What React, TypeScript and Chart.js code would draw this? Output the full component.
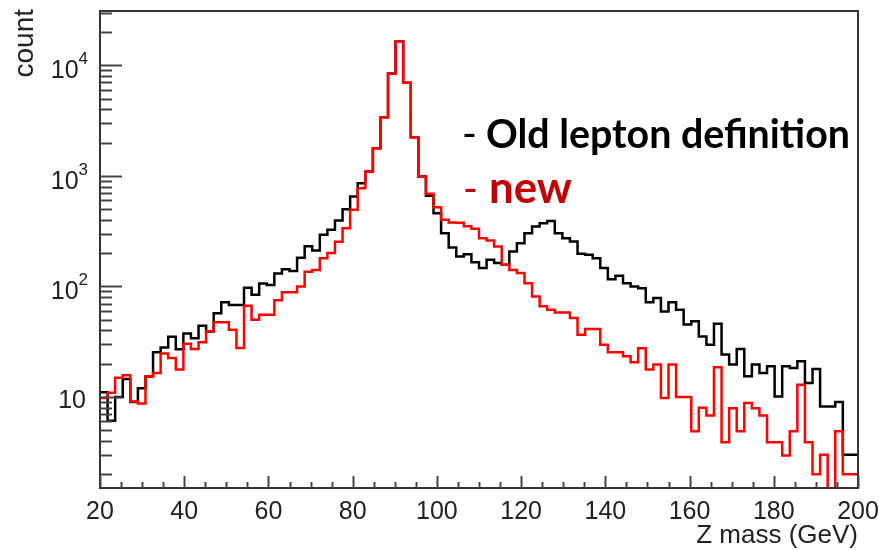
import React, { useEffect, useRef } from "react";
import { Chart, registerables } from "chart.js";

Chart.register(...registerables);

// Histogram binning (100 bins from 20 to 200 GeV)
const X_MIN = 20;
const X_MAX = 200;
const N_BINS = 100;

// Bin contents, "Old lepton definition" (black)
const oldLepton = [
  11, 6.1, 10, 14.5, 9, 12, 15.3, 25.4, 28, 35,
  27, 37.5, 34, 44, 39, 57, 72, 68, 68, 97,
  84, 106, 103, 131, 143, 138, 182, 231, 211, 293,
  325, 395, 500, 651, 858, 1094, 1778, 3388, 8450, 16500,
  6970, 2234, 986, 660, 460, 303, 225, 186, 195, 165,
  147, 174, 163, 157, 207, 246, 303, 348, 373, 390,
  303, 273, 255, 197, 193, 180, 147, 116, 125, 107,
  100, 96, 72, 78.5, 59.4, 71.7, 61.5, 45.1, 48.3, 35.3,
  29.7, 46, 24.2, 19.6, 27.2, 15.4, 19.6, 16.5, 18.9, 10.1,
  18.9, 18.3, 21, 13.4, 17.9, 8.2, 8.2, 9, 3, 3,
];

// Bin contents, "new" (red)
const newLepton = [
  9.8, 10.9, 14.9, 15.7, 9.1, 8.7, 15.4, 16.5, 24.7, 22.5,
  17.7, 30.3, 27.2, 31.2, 39.2, 47.3, 47.3, 40.6, 27.7, 66.8,
  50, 55.5, 55.5, 74.8, 88.3, 88.3, 100, 136, 141, 180,
  200, 254, 336, 493, 773, 1094, 1778, 3388, 8450, 16500,
  6970, 2234, 986, 690, 520, 400, 379, 376, 350, 333,
  273, 260, 230, 157, 141, 132, 107, 81, 66, 61.5,
  58, 58, 51.8, 36.6, 41.2, 41.2, 29.7, 25.4, 25.4, 23.3,
  20.6, 27.5, 17.7, 19.6, 9.8, 19.6, 10, 10, 4.9, 8,
  6.8, 18.6, 3.9, 7.9, 4.9, 8.8, 7.9, 6.8, 3.9, 3.9,
  2.95, 4.9, 12.9, 3.9, 2.0, 3.0, 1, 4.9, 2.0, 2.0,
];

const xTickLabels = [20, 40, 60, 80, 100, 120, 140, 160, 180, 200];
const yTickExponents = [1, 2, 3, 4];
const Y_MIN = 1.5;
const Y_MAX = 31000;

const xTitle = "Z mass (GeV)";
const yTitle = "count";
const legendOld = "Old lepton definition";
const legendNew = "new";

function toSteps(values: number[]) {
  const w = (X_MAX - X_MIN) / N_BINS;
  const pts = values.map((v, i) => ({ x: X_MIN + i * w, y: v }));
  pts.push({ x: X_MAX, y: values[values.length - 1] });
  return pts;
}

const FONT_AX = '"Liberation Sans", Arial, Helvetica, sans-serif';
const FONT_LEG = 'Lato, "Open Sans", sans-serif';

const decorPlugin = {
  id: "rootDecor",
  afterDatasetsDraw(chart: any) {
    const ctx: CanvasRenderingContext2D = chart.ctx;
    const a = chart.chartArea;
    const xs = chart.scales.x;
    const ys = chart.scales.y;
    ctx.save();

    // frame
    ctx.strokeStyle = "#333";
    ctx.lineWidth = 2;
    ctx.strokeRect(a.left, a.top, a.right - a.left, a.bottom - a.top);

    // y ticks (inside, log minor)
    ctx.lineWidth = 2;
    ctx.strokeStyle = "#444";
    for (let d = 0; d <= 4; d++) {
      for (let m = 1; m <= 9; m++) {
        const v = m * Math.pow(10, d);
        if (v < Y_MIN || v > Y_MAX) continue;
        const py = Math.round(ys.getPixelForValue(v)) + 0.5;
        const len = m === 1 ? 22 : 12;
        ctx.beginPath();
        ctx.moveTo(a.left, py);
        ctx.lineTo(a.left + len, py);
        ctx.stroke();
      }
    }
    // x ticks
    for (let v = X_MIN; v <= X_MAX; v += 5) {
      const px = Math.round(xs.getPixelForValue(v)) + 0.5;
      const len = v % 20 === 0 ? 12 : 6;
      ctx.beginPath();
      ctx.moveTo(px, a.bottom);
      ctx.lineTo(px, a.bottom - len);
      ctx.stroke();
    }

    // x tick labels
    ctx.fillStyle = "#222";
    ctx.font = `25px ${FONT_AX}`;
    ctx.textAlign = "center";
    ctx.textBaseline = "alphabetic";
    xTickLabels.forEach((v) => {
      ctx.fillText(String(v), xs.getPixelForValue(v), a.bottom + 31);
    });

    // y tick labels (10, 10^2, ...)
    yTickExponents.forEach((e) => {
      const py = ys.getPixelForValue(Math.pow(10, e));
      if (e === 1) {
        ctx.font = `25px ${FONT_AX}`;
        ctx.textAlign = "right";
        ctx.fillText("10", 86, py + 11);
      } else {
        ctx.font = `17px ${FONT_AX}`;
        ctx.textAlign = "right";
        const ew = ctx.measureText(String(e)).width;
        ctx.fillText(String(e), 88, py - 1);
        ctx.font = `25px ${FONT_AX}`;
        ctx.fillText("10", 88 - ew, py + 13);
      }
    });

    // axis titles
    ctx.font = `26px ${FONT_AX}`;
    ctx.textAlign = "right";
    ctx.fillText(xTitle, a.right, 543);
    ctx.save();
    ctx.translate(33, 9);
    ctx.rotate(-Math.PI / 2);
    ctx.textAlign = "right";
    ctx.font = `28px ${FONT_AX}`;
    ctx.fillText(yTitle, 0, 0);
    ctx.restore();

    // annotation legend
    ctx.textAlign = "left";
    // line 1
    ctx.fillStyle = "#000";
    ctx.font = `40px ${FONT_LEG}`;
    ctx.fillText("-", 462, 148);
    ctx.font = `bold 40px ${FONT_LEG}`;
    const w1 = ctx.measureText(legendOld).width;
    const s1 = (40 * 364) / w1;
    ctx.font = `bold ${s1}px ${FONT_LEG}`;
    ctx.fillText(legendOld, 486, 148);
    // line 2
    ctx.fillStyle = "#C00000";
    ctx.font = `40px ${FONT_LEG}`;
    ctx.fillText("-", 463, 203);
    ctx.font = `bold 40px ${FONT_LEG}`;
    const w2 = ctx.measureText(legendNew).width;
    const s2 = (40 * 83) / w2;
    ctx.font = `bold ${s2}px ${FONT_LEG}`;
    ctx.fillText(legendNew, 489, 203);

    ctx.restore();
  },
};

export default function App() {
  const ref = useRef<HTMLCanvasElement | null>(null);

  useEffect(() => {
    if (!ref.current) return;
    const chart = new Chart(ref.current, {
      type: "line",
      data: {
        datasets: [
          {
            label: "new",
            data: toSteps(newLepton),
            borderColor: "#ff0000",
            borderWidth: 2.5,
            pointRadius: 0,
            stepped: "before",
            fill: false,
          },
          {
            label: "Old lepton definition",
            data: toSteps(oldLepton),
            borderColor: "#000000",
            borderWidth: 2.5,
            pointRadius: 0,
            stepped: "before",
            fill: false,
          },
        ],
      },
      options: {
        animation: false,
        responsive: true,
        maintainAspectRatio: false,
        layout: { padding: { left: 100, right: 21, top: 11, bottom: 62 } },
        plugins: { legend: { display: false }, tooltip: { enabled: false } },
        scales: {
          x: {
            type: "linear",
            min: X_MIN,
            max: X_MAX,
            ticks: { display: false },
            grid: { display: false, drawTicks: false },
            border: { display: false },
            afterFit: (s: any) => {
              s.height = 0;
              s.paddingLeft = 0;
              s.paddingRight = 0;
            },
          },
          y: {
            type: "logarithmic",
            min: Y_MIN,
            max: Y_MAX,
            ticks: { display: false },
            grid: { display: false, drawTicks: false },
            border: { display: false },
            afterFit: (s: any) => {
              s.width = 0;
              s.paddingTop = 0;
              s.paddingBottom = 0;
            },
          },
        },
      },
      plugins: [decorPlugin],
    });
    return () => chart.destroy();
  }, []);

  return (
    <div
      style={{
        position: "fixed",
        left: 0,
        top: 0,
        width: 879,
        height: 550,
        background: "#fff",
      }}
    >
      <canvas ref={ref} />
    </div>
  );
}
